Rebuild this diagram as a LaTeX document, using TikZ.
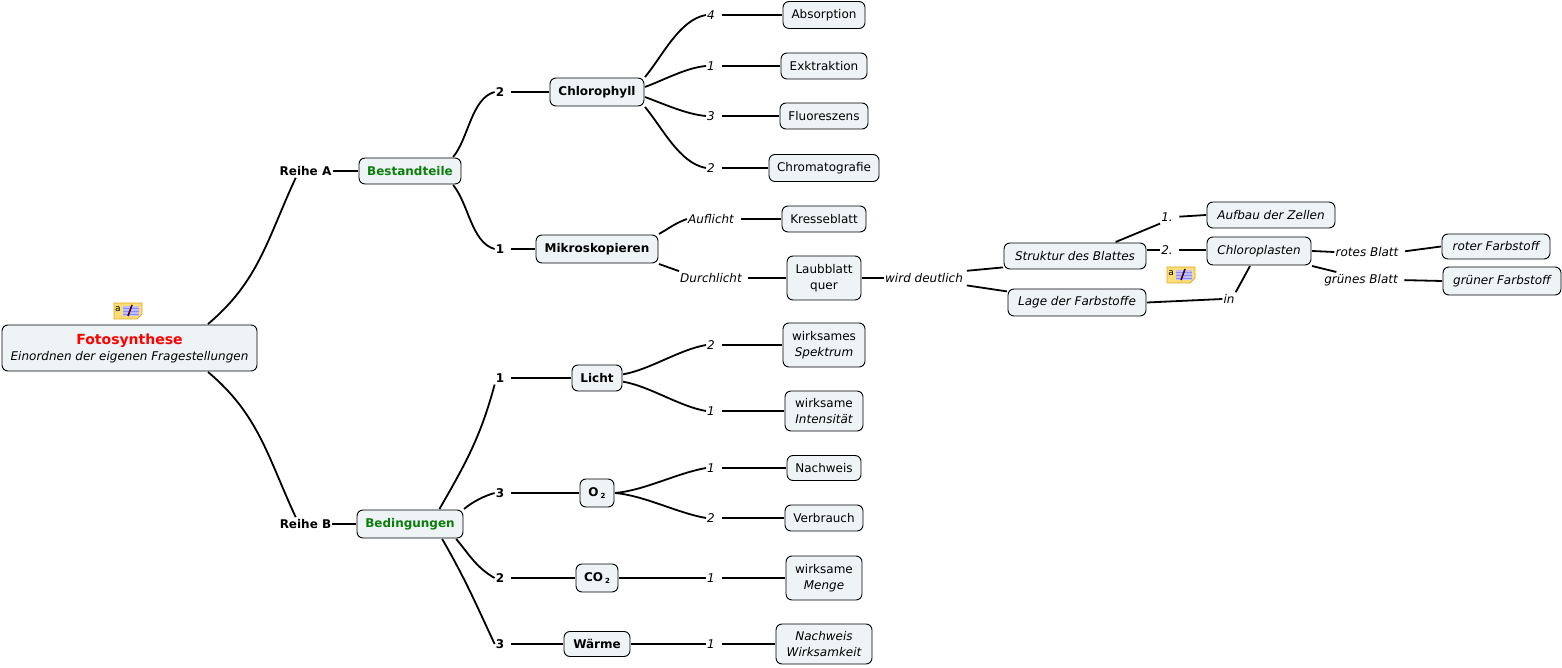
\documentclass[tikz,border=0pt]{standalone}
\usepackage{fontspec}
\setmainfont{DejaVu Sans}
\usetikzlibrary{calc}
\definecolor{boxfill}{HTML}{EEF4F6}
\definecolor{titlegreen}{HTML}{0A7D0A}
\definecolor{notefill}{HTML}{FBDD78}
\definecolor{noteedge}{HTML}{DDAA25}
\tikzset{
  topic/.style={draw, rounded corners=6pt, fill=boxfill, line width=0.9pt, inner sep=0pt, outer sep=1pt, align=center, font=\fontsize{12}{16}\selectfont},
  tag/.style={inner xsep=1pt, inner ysep=2pt, font=\fontsize{12}{15}\selectfont\itshape},
  head/.style={inner xsep=1pt, inner ysep=2pt, font=\fontsize{12}{15}\selectfont\bfseries},
  link/.style={line width=1.8pt},
  tagout/.style={shorten <=5.5pt},
  noteicon/.pic={
    \draw[noteedge, fill=notefill, line width=0.9pt] (-14,-8) -- (9,-8) -- (14,-3) -- (14,8) -- (-14,8) -- cycle;
    \fill[white!75!blue] (-5,-5) rectangle (11,5);
    \foreach \y in {-3,0,3} \draw[blue!45!white, line width=0.8pt] (-5,\y) -- (11,\y);
    \draw[black!70!red, line width=1.6pt] (0,-5) -- (4,6);
    \node[inner sep=0pt, font=\fontsize{9}{9}\selectfont] at (-10,2) {a};
  }
}
\begin{document}
\begin{tikzpicture}[x=1pt, y=1pt]
  \useasboundingbox (0, 0) rectangle (1562, 667);

  \node[topic, minimum width=255pt, minimum height=46pt] (root) at (129.5, 319) {{\color{red}\fontsize{14}{17}\selectfont\bfseries Fotosynthese}\\\itshape Einordnen der eigenen Fragestellungen};
  \pic at (128, 356) {noteicon};
  \pic at (1181, 392) {noteicon};

  \node[head] (reiheA) at (305.5, 496) {Reihe A};
  \node[head] (reiheB) at (305.5, 143) {Reihe B};
  \node[topic, minimum width=102pt, minimum height=26pt, font=\fontsize{12}{16}\selectfont\bfseries, text=titlegreen] (bestandteile) at (410, 496) {Bestandteile};
  \node[topic, minimum width=106pt, minimum height=28pt, font=\fontsize{12}{16}\selectfont\bfseries, text=titlegreen] (bedingungen) at (410, 143) {Bedingungen};

  \node[head] (t2chl) at (500, 575) {2};
  \node[head] (t1mik) at (500, 418) {1};
  \node[topic, minimum width=94pt, minimum height=28pt, font=\fontsize{12}{16}\selectfont\bfseries] (chlorophyll) at (597, 575) {Chlorophyll};
  \node[topic, minimum width=122pt, minimum height=28pt, font=\fontsize{12}{16}\selectfont\bfseries] (mikroskopieren) at (597, 418) {Mikroskopieren};

  \node[tag] (t4abs) at (711, 652) {4};
  \node[tag] (t1ext) at (711, 601) {1};
  \node[tag] (t3flu) at (711, 551) {3};
  \node[tag] (t2chr) at (711, 499) {2};
  \node[topic, minimum width=82pt, minimum height=27pt] (absorption) at (824, 652) {Absorption};
  \node[topic, minimum width=86pt, minimum height=26pt] (exktraktion) at (824, 601) {Exktraktion};
  \node[topic, minimum width=88pt, minimum height=26pt] (fluoreszens) at (824, 551) {Fluoreszens};
  \node[topic, minimum width=110pt, minimum height=27pt] (chromatografie) at (824, 499) {Chromatografie};

  \node[tag] (auflicht) at (711, 448) {Auflicht};
  \node[tag] (durchlicht) at (711, 389) {Durchlicht};
  \node[topic, minimum width=84pt, minimum height=26pt] (kresseblatt) at (824, 448) {Kresseblatt};
  \node[topic, minimum width=74pt, minimum height=44pt] (laubblatt) at (824, 389) {Laubblatt\\quer};
  \node[tag] (deutlich) at (924, 389) {wird deutlich};
  \node[topic, minimum width=142pt, minimum height=26pt, font=\fontsize{12}{16}\selectfont\itshape] (struktur) at (1075, 411) {Struktur des Blattes};
  \node[topic, minimum width=138pt, minimum height=27pt, font=\fontsize{12}{16}\selectfont\itshape] (lage) at (1077, 364.5) {Lage der Farbstoffe};
  \node[tag] (t1auf) at (1167, 450) {1.};
  \node[tag] (t2clo) at (1167, 417) {2.};
  \node[tag] (inlink) at (1229, 368) {in};
  \node[topic, minimum width=128pt, minimum height=26pt, font=\fontsize{12}{16}\selectfont\itshape] (aufbau) at (1271, 452) {Aufbau der Zellen};
  \node[topic, minimum width=104pt, minimum height=28pt, font=\fontsize{12}{16}\selectfont\itshape] (chloroplasten) at (1259, 416) {Chloroplasten};
  \node[tag] (rotes) at (1367, 415) {rotes Blatt};
  \node[tag] (gruenes) at (1361, 387) {grünes Blatt};
  \node[topic, minimum width=108pt, minimum height=25pt, font=\fontsize{12}{16}\selectfont\itshape] (roter) at (1496, 420.5) {roter Farbstoff};
  \node[topic, minimum width=118pt, minimum height=28pt, font=\fontsize{12}{16}\selectfont\itshape] (gruener) at (1502, 386) {grüner Farbstoff};

  \node[head] (t1lic) at (500, 289) {1};
  \node[head] (t3oxy) at (500, 174) {3};
  \node[head] (t2cod) at (500, 89) {2};
  \node[head] (t3wae) at (500, 23) {3};
  \node[topic, minimum width=50pt, minimum height=26pt, font=\fontsize{12}{16}\selectfont\bfseries] (licht) at (597, 289) {Licht};
  \node[topic, minimum width=34pt, minimum height=28pt, font=\fontsize{12}{16}\selectfont\bfseries] (oxygen) at (597, 174) {O\,\raisebox{-2pt}{\fontsize{7}{7}\selectfont 2}};
  \node[topic, minimum width=42pt, minimum height=28pt, font=\fontsize{12}{16}\selectfont\bfseries] (carbon) at (597, 89) {CO\,\raisebox{-2pt}{\fontsize{7}{7}\selectfont 2}};
  \node[topic, minimum width=66pt, minimum height=25pt, font=\fontsize{12}{16}\selectfont\bfseries] (waerme) at (597, 23) {Wärme};

  \node[tag] (t2spe) at (711, 322) {2};
  \node[tag] (t1int) at (711, 256) {1};
  \node[tag] (t1nac) at (711, 199) {1};
  \node[tag] (t2ver) at (711, 149) {2};
  \node[tag] (t1men) at (711, 89) {1};
  \node[tag] (t1wir) at (711, 23) {1};
  \node[topic, minimum width=82pt, minimum height=44pt] (spektrum) at (824, 322) {wirksames\\\itshape Spektrum};
  \node[topic, minimum width=78pt, minimum height=40pt] (intensitaet) at (824, 256) {wirksame\\\itshape Intensität};
  \node[topic, minimum width=74pt, minimum height=25pt] (nachweis) at (824, 199) {Nachweis};
  \node[topic, minimum width=78pt, minimum height=26pt] (verbrauch) at (824, 149) {Verbrauch};
  \node[topic, minimum width=76pt, minimum height=44pt] (menge) at (824, 89) {wirksame\\\itshape Menge};
  \node[topic, minimum width=96pt, minimum height=40pt, font=\fontsize{12}{16}\selectfont\itshape] (wirksamkeit) at (824, 23) {Nachweis\\Wirksamkeit};

  % upper half
  \draw[link] (root.17) to[out=40, in=245] (reiheA.215);
  \draw[link] (root.-17) to[out=-40, in=115] (reiheB.145);
  \draw[link] (reiheA.east) -- (bestandteile.west);
  \draw[link] (reiheB.east) -- (bedingungen.west);
  \draw[link] (bestandteile.18) to[out=50, in=195, looseness=0.8] (t2chl.west);
  \draw[link] (bestandteile.-18) to[out=-50, in=165, looseness=0.8] (t1mik.west);
  \draw[link, tagout] (t2chl.east) -- (chlorophyll.west);
  \draw[link, tagout] (t1mik.east) -- (mikroskopieren.west);
  \draw[link] (chlorophyll.north east) to[out=50, in=190, looseness=0.8] (t4abs.west);
  \draw[link] (chlorophyll.6) to[out=20, in=185, looseness=0.8] (t1ext.west);
  \draw[link] (chlorophyll.-6) to[out=-20, in=175, looseness=0.8] (t3flu.west);
  \draw[link] (chlorophyll.south east) to[out=-50, in=170, looseness=0.8] (t2chr.west);
  \draw[link, tagout] (t4abs.east) -- (absorption.west);
  \draw[link, tagout] (t1ext.east) -- (exktraktion.west);
  \draw[link, tagout] (t3flu.east) -- (fluoreszens.west);
  \draw[link, tagout] (t2chr.east) -- (chromatografie.west);
  \draw[link] (mikroskopieren.north east) to[out=30, in=200] (auflicht.west);
  \draw[link] (mikroskopieren.south east) -- (durchlicht.north west);
  \draw[link, tagout] (auflicht.east) -- (kresseblatt.west);
  \draw[link, tagout] (durchlicht.east) -- (laubblatt.west);
  \draw[link] (laubblatt.east) -- (deutlich.west);
  \draw[link, shorten <=4pt] (deutlich.10) -- (struktur.189);
  \draw[link, shorten <=4pt] (deutlich.-10) -- (lage.171);
  \draw[link] (struktur.19) -- (t1auf.south west);
  \draw[link] (t2clo.west) -- (t2clo.west -| struktur.east);
  \draw[link, tagout] (t1auf.east) -- (aufbau.west);
  \draw[link, tagout] (t2clo.east) -- (t2clo.east -| chloroplasten.west);
  \draw[link] (lage.east) -- (inlink.west);
  \draw[link] (inlink.north east) -- (chloroplasten.239);
  \draw[link] (chloroplasten.east) -- (rotes.west);
  \draw[link] (chloroplasten.south east) -- (gruenes.162);
  \draw[link, tagout] (rotes.east) -- (roter.west);
  \draw[link, tagout] (gruenes.east) -- (gruener.west);

  % lower half
  \draw[link] (bedingungen.27) to[out=60, in=255] (t1lic.south west);
  \draw[link] (bedingungen.north east) to[out=40, in=195, looseness=0.8] (t3oxy.west);
  \draw[link] (bedingungen.-18) to[out=-50, in=150] (t2cod.west);
  \draw[link] (bedingungen.-25) to[out=-60, in=115] (t3wae.west);
  \draw[link, tagout] (t1lic.east) -- (licht.west);
  \draw[link, tagout] (t3oxy.east) -- (oxygen.west);
  \draw[link, tagout] (t2cod.east) -- (carbon.west);
  \draw[link, tagout] (t3wae.east) -- (waerme.west);
  \draw[link] (licht.8) to[out=10, in=190, looseness=0.8] (t2spe.west);
  \draw[link] (licht.-8) to[out=-10, in=170, looseness=0.8] (t1int.west);
  \draw[link] (oxygen.east) to[out=5, in=190, looseness=0.8] (t1nac.west);
  \draw[link] (oxygen.east) to[out=-5, in=170, looseness=0.8] (t2ver.west);
  \draw[link] (carbon.east) -- (t1men.west);
  \draw[link] (waerme.east) -- (t1wir.west);
  \draw[link, tagout] (t2spe.east) -- (spektrum.west);
  \draw[link, tagout] (t1int.east) -- (intensitaet.west);
  \draw[link, tagout] (t1nac.east) -- (nachweis.west);
  \draw[link, tagout] (t2ver.east) -- (verbrauch.west);
  \draw[link, tagout] (t1men.east) -- (menge.west);
  \draw[link, tagout] (t1wir.east) -- (wirksamkeit.west);
\end{tikzpicture}
\end{document}
